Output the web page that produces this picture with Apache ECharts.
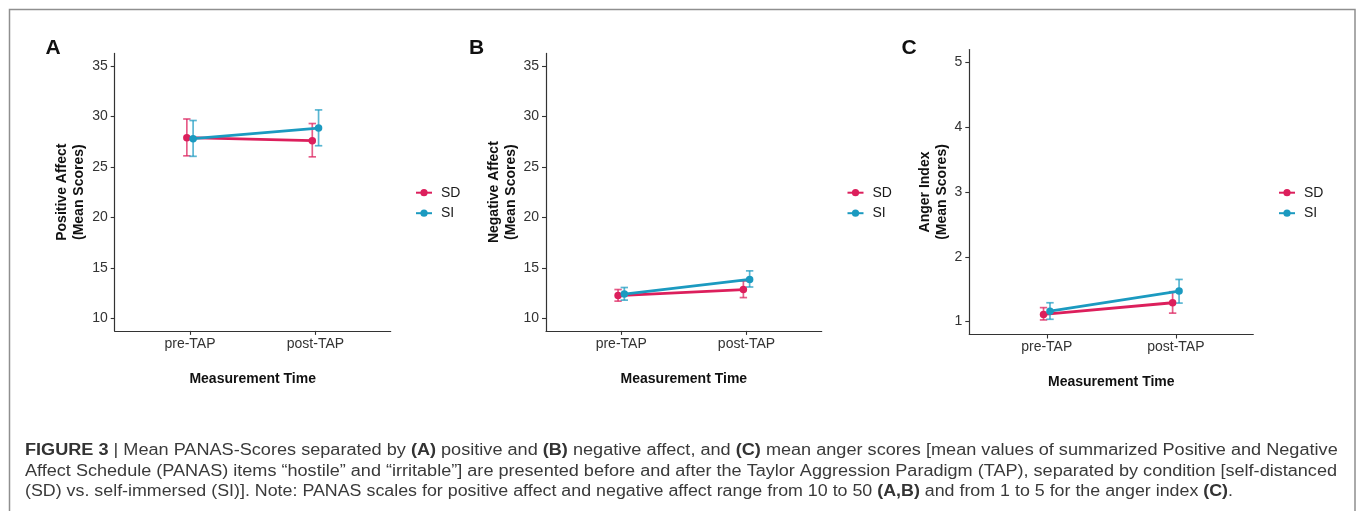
<!DOCTYPE html>
<html><head><meta charset="utf-8">
<script src="https://cdn.jsdelivr.net/npm/echarts@6/dist/echarts.min.js"></script>
<style>html,body{margin:0;padding:0;background:#fff}#c{width:1357px;height:511px}</style>
</head><body><div id="c"></div>
<script>
// ---- data ----
const categories = ['pre-TAP', 'post-TAP'];
const groups = ['SD', 'SI'];
const affectTicks = [10, 15, 20, 25, 30, 35];
const angerTicks = [1, 2, 3, 4, 5];

const posSD = [27.9, 27.6];   const posSDlow = [26.1, 26.0];   const posSDhigh = [29.75, 29.3];
const posSI = [27.8, 28.85];  const posSIlow = [26.05, 27.1];  const posSIhigh = [29.6, 30.65];
const negSD = [12.25, 12.85]; const negSDlow = [11.7, 12.05];  const negSDhigh = [12.85, 13.7];
const negSI = [12.4, 13.85];  const negSIlow = [11.8, 13.1];   const negSIhigh = [13.05, 14.7];
const angSD = [1.11, 1.29];   const angSDlow = [1.025, 1.13];  const angSDhigh = [1.215, 1.46];
const angSI = [1.16, 1.47];   const angSIlow = [1.035, 1.285]; const angSIhigh = [1.29, 1.65];

const panelLetters = ['A', 'B', 'C'];
const yTitles = ['Positive Affect\n(Mean Scores)', 'Negative Affect\n(Mean Scores)', 'Anger Index\n(Mean Scores)'];
const xTitle = 'Measurement Time';

// ---- styles / layout ----
const FONT = '"Liberation Sans", Arial, Helvetica, sans-serif';
const colors = { SD: '#DC1F5C', SI: '#1B9AC0' };
const dodge = { SD: -0.025, SI: 0.025 };
const panels = [
  { means: { SD: posSD, SI: posSI }, low: { SD: posSDlow, SI: posSIlow }, high: { SD: posSDhigh, SI: posSIhigh },
    ticks: affectTicks, min: 8.75, max: 36.25,
    grid: { left: 114.7, top: 53.4, width: 276, height: 277.5 }, nameGap: 27, legendLeft: 415, letterX: 53 },
  { means: { SD: negSD, SI: negSI }, low: { SD: negSDlow, SI: negSIlow }, high: { SD: negSDhigh, SI: negSIhigh },
    ticks: affectTicks, min: 8.75, max: 36.25,
    grid: { left: 546, top: 53.4, width: 275.7, height: 277.5 }, nameGap: 26.5, legendLeft: 846.5, letterX: 476.7 },
  { means: { SD: angSD, SI: angSI }, low: { SD: angSDlow, SI: angSIlow }, high: { SD: angSDhigh, SI: angSIhigh },
    ticks: angerTicks, min: 0.8, max: 5.2,
    grid: { left: 969.3, top: 49.5, width: 284, height: 285 }, nameGap: 18, legendLeft: 1278, letterX: 909 }
];

function errRender(params, api) {
  const x = api.value(0), lo = api.value(1), hi = api.value(2);
  const pLo = api.coord([x, lo]), pHi = api.coord([x, hi]);
  const cap = 3.7;
  const st = { stroke: api.visual('color'), lineWidth: 1.7, opacity: 0.72 };
  return { type: 'group', children: [
    { type: 'line', shape: { x1: pLo[0], y1: pLo[1], x2: pHi[0], y2: pHi[1] }, style: st },
    { type: 'line', shape: { x1: pLo[0] - cap, y1: pLo[1], x2: pLo[0] + cap, y2: pLo[1] }, style: st },
    { type: 'line', shape: { x1: pHi[0] - cap, y1: pHi[1], x2: pHi[0] + cap, y2: pHi[1] }, style: st }
  ] };
}

const grid = [], xAxis = [], yAxis = [], series = [], legend = [], graphic = [];
panels.forEach((p, i) => {
  grid.push(Object.assign({ containLabel: false }, p.grid));
  xAxis.push({
    type: 'value', gridIndex: i, min: 0.4, max: 2.6,
    axisLine: { show: true, onZero: false, lineStyle: { color: '#333', width: 1.2 } },
    axisTick: { show: true, customValues: [1, 2], length: 4, lineStyle: { color: '#333', width: 1.1 } },
    axisLabel: { customValues: [1, 2], formatter: v => categories[Math.round(v) - 1], fontSize: 14, color: '#333', margin: 6, fontFamily: FONT },
    splitLine: { show: false },
    name: xTitle, nameLocation: 'middle', nameGap: 41,
    nameTextStyle: { fontWeight: 'bold', fontSize: 14, color: '#111', fontFamily: FONT }
  });
  yAxis.push({
    type: 'value', gridIndex: i, min: p.min, max: p.max,
    axisLine: { show: true, onZero: false, lineStyle: { color: '#333', width: 1.2 } },
    axisTick: { show: true, customValues: p.ticks, length: 4, lineStyle: { color: '#333', width: 1.1 } },
    axisLabel: { customValues: p.ticks, fontSize: 14, color: '#333', margin: 7, fontFamily: FONT },
    splitLine: { show: false },
    name: yTitles[i], nameLocation: 'middle', nameRotate: 90, nameGap: p.nameGap,
    nameTextStyle: { fontWeight: 'bold', fontSize: 14, lineHeight: 17, color: '#111', fontFamily: FONT, align: 'center' }
  });
  groups.forEach(g => {
    series.push({
      type: 'line', name: g, xAxisIndex: i, yAxisIndex: i, z: 3,
      data: categories.map((c, k) => [k + 1 + dodge[g], p.means[g][k]]),
      symbol: 'circle', symbolSize: 7.5, showSymbol: true,
      color: colors[g], lineStyle: { width: 2.8, color: colors[g] }, itemStyle: { color: colors[g] },
      emphasis: { disabled: true }, animation: false
    });
  });
  groups.forEach(g => {
    series.push({
      type: 'custom', name: g, xAxisIndex: i, yAxisIndex: i, z: 2,
      renderItem: errRender, encode: { x: 0, y: [1, 2] },
      itemStyle: { color: colors[g] },
      data: categories.map((c, k) => [k + 1 + dodge[g], p.low[g][k], p.high[g][k]]),
      animation: false
    });
  });
  legend.push({
    orient: 'vertical', left: p.legendLeft, top: 185.7, padding: 0, data: groups,
    itemWidth: 16, itemHeight: 9, itemGap: 6.5, selectedMode: false,
    textStyle: { fontSize: 14, color: '#1a1a1a', fontFamily: FONT, padding: [0, 0, 0, 4] }
  });
  graphic.push({ type: 'text', x: p.letterX, y: 48, style: { text: panelLetters[i], font: 'bold 21px ' + FONT, fill: '#111', align: 'center', verticalAlign: 'middle' } });
});

// ---- caption ----
const capLines = [
  { y: 451, w: 1312.7, segs: [['b', 'FIGURE 3'], ['n', ' | Mean PANAS-Scores separated by '], ['b', '(A)'], ['n', ' positive and '], ['b', '(B)'], ['n', ' negative affect, and '], ['b', '(C)'], ['n', ' mean anger scores [mean values of summarized Positive and Negative']] },
  { y: 471.5, w: 1312, segs: [['n', 'Affect Schedule (PANAS) items “hostile” and “irritable”] are presented before and after the Taylor Aggression Paradigm (TAP), separated by condition [self-distanced']] },
  { y: 492, w: 1208, segs: [['n', '(SD) vs. self-immersed (SI)]. Note: PANAS scales for positive affect and negative affect range from 10 to 50 '], ['b', '(A,B)'], ['n', ' and from 1 to 5 for the anger index '], ['b', '(C)'], ['n', '.']] }
];
const mctx = document.createElement('canvas').getContext('2d');
capLines.forEach(L => {
  let w = 0;
  L.segs.forEach(s => { mctx.font = (s[0] === 'b' ? 'bold ' : '') + '16px ' + FONT; w += mctx.measureText(s[1]).width; });
  const text = L.segs.map(s => '{' + s[0] + '|' + s[1] + '}').join('');
  graphic.push({
    type: 'text', x: 25, y: L.y, scaleX: L.w / w,
    style: { text: text, fontSize: 16, fontFamily: FONT, fill: '#3a3a3a', verticalAlign: 'middle', align: 'left',
      rich: { b: { fontWeight: 'bold', fontSize: 16, fontFamily: FONT, fill: '#333' }, n: { fontSize: 16, fontFamily: FONT, fill: '#3a3a3a' } } }
  });
});
graphic.push({ type: 'rect', shape: { x: 9.5, y: 9.5, width: 1345.5, height: 600 }, style: { fill: null, stroke: '#8f8f8f', lineWidth: 1.5 }, silent: true });

const chart = echarts.init(document.getElementById('c'), null, { renderer: 'canvas' });
chart.setOption({ backgroundColor: '#fff', animation: false, grid, xAxis, yAxis, series, legend, graphic, tooltip: { show: false } });
</script></body></html>
